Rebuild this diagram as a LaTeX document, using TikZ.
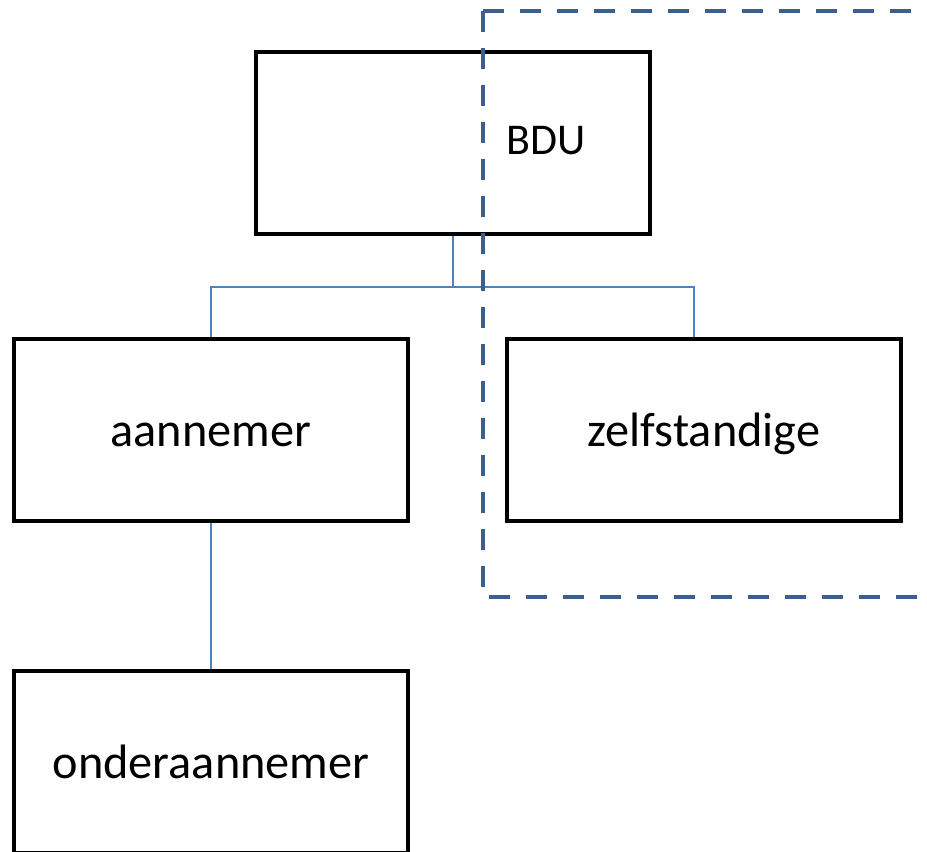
\documentclass[tikz,border=0pt]{standalone}
\usepackage{fontspec}
\setmainfont{Carlito}
\usepackage{tikz}

\definecolor{linkblue}{RGB}{79,129,189}
\definecolor{groupblue}{RGB}{60,95,143}

\begin{document}
\begin{tikzpicture}[x=0.02cm,y=-0.02cm,
    box/.style={shape=rectangle,draw=black,line width=0.08cm,minimum width=7.9cm,minimum height=3.64cm,
      font=\fontsize{27.5}{33}\selectfont,text height=0.75cm,text depth=0.11cm},
    link/.style={draw=linkblue,line width=0.03cm},
    group/.style={draw=groupblue,line width=0.09cm,dash pattern=on 0.42cm off 0.32cm}]
      \clip (0,0) rectangle (927,852);

      \node[box] (BDU) at (453,143) {};
      \node[font=\fontsize{25}{30}\selectfont,anchor=base] (BDUtext) at (546,154) {BDU};
      \node[box] (aan) at (211,430) {aannemer};
      \node[box] (zelf) at (704,430) {zelfstandige};
      \node[box] (onder) at (211,762) {onderaannemer};

      \coordinate (fork) at (453,287);
      \path [link] (BDU) -- (fork) -| (aan);
      \path [link] (fork) -| ([xshift=-0.2cm]zelf.north);
      \path [link] (aan) -- (onder);

      \draw[group] (483,11) -- (960,11);
      \draw[group] (483,11) -- (483,597) -- (960,597);
    \end{tikzpicture}
\end{document}
